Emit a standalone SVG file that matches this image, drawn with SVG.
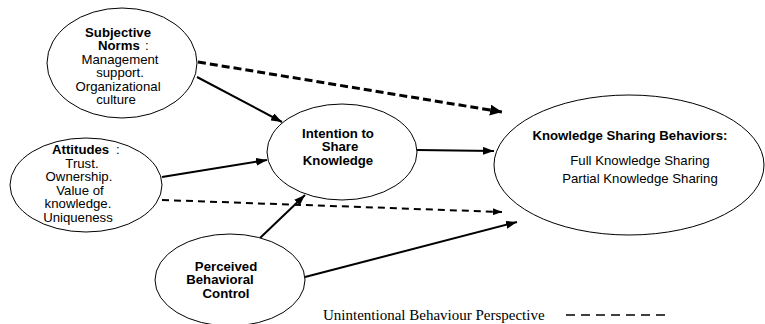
<svg xmlns="http://www.w3.org/2000/svg" width="765" height="324" viewBox="0 0 765 324">
<style>
.node{fill:#fff;stroke:#000;stroke-width:1}
.t{font-family:"Liberation Sans",Arial,sans-serif;font-size:12px;fill:#000;text-anchor:middle}
.s{text-anchor:start}
.b{font-weight:bold}
.solid{stroke:#000;stroke-width:2;fill:none}
.dash1{stroke:#000;stroke-width:3;stroke-dasharray:8 4;fill:none}
.dash2{stroke:#000;stroke-width:2;stroke-dasharray:7 5;fill:none}
.leg{font-family:"Liberation Serif","Times New Roman",serif;font-size:15px;fill:#000}
</style>
<defs>
<marker id="ah" markerUnits="userSpaceOnUse" markerWidth="11" markerHeight="8" refX="11" refY="4" orient="auto"><path d="M0,0 L11,4 L0,8 z" fill="#000"/></marker>
<marker id="ahb" markerUnits="userSpaceOnUse" markerWidth="12" markerHeight="11" refX="12" refY="5.5" orient="auto"><path d="M0,0 L12,5.5 L0,11 z" fill="#000"/></marker>
<marker id="ahs" markerUnits="userSpaceOnUse" markerWidth="9" markerHeight="7" refX="9" refY="3.5" orient="auto"><path d="M0,0 L9,3.5 L0,7 z" fill="#000"/></marker>
</defs>
<g id="connectors">
<line class="solid" x1="197" y1="77" x2="282" y2="122" marker-end="url(#ah)"/>
<line class="dash1" x1="198" y1="62" x2="502" y2="112" marker-end="url(#ahb)"/>
<line class="solid" x1="162" y1="177" x2="267" y2="160" marker-end="url(#ah)"/>
<line class="dash2" x1="162" y1="200" x2="502" y2="212" marker-end="url(#ahs)"/>
<line class="solid" x1="260" y1="238" x2="305" y2="195" marker-end="url(#ah)"/>
<line class="solid" x1="305" y1="277" x2="517" y2="222" marker-end="url(#ah)"/>
<line class="solid" x1="417" y1="150" x2="494" y2="151" marker-end="url(#ah)"/>
</g>
<g id="subjective-norms">
<ellipse class="node" cx="122" cy="63" rx="75" ry="55"/>
<g transform="scale(1.1 1)">
<text class="t b" x="107.3" y="37">Subjective</text>
<text class="t s" x="89.1" y="50.5"><tspan class="b">Norms</tspan><tspan x="131.8">:</tspan></text>
<text class="t" x="109.1" y="64">Management</text>
<text class="t" x="109.1" y="77.5">support.</text>
<text class="t" x="107.3" y="91">Organizational</text>
<text class="t" x="105.5" y="104.5">culture</text>
</g>
</g>
<g id="attitudes">
<ellipse class="node" cx="86" cy="185" rx="76" ry="47"/>
<g transform="scale(1.1 1)">
<text class="t s" x="47.3" y="154.5"><tspan class="b">Attitudes</tspan><tspan x="105.5">:</tspan></text>
<text class="t" x="74.5" y="168">Trust.</text>
<text class="t" x="71.8" y="181.5">Ownership.</text>
<text class="t" x="72.7" y="195">Value of</text>
<text class="t" x="70.9" y="208.5">knowledge.</text>
<text class="t" x="70.9" y="222">Uniqueness</text>
</g>
</g>
<g id="intention">
<ellipse class="node" cx="342" cy="152" rx="75" ry="48"/>
<g transform="scale(1.1 1)">
<text class="t b" x="307.3" y="138">Intention to</text>
<text class="t b" x="309.1" y="151.5">Share</text>
<text class="t b" x="307.3" y="165">Knowledge</text>
</g>
</g>
<g id="perceived-behavioral-control">
<ellipse class="node" cx="230" cy="280" rx="75" ry="46"/>
<g transform="scale(1.1 1)">
<text class="t b" x="205.5" y="271">Perceived</text>
<text class="t b" x="200" y="284.5">Behavioral</text>
<text class="t b" x="205.5" y="298">Control</text>
</g>
</g>
<g id="knowledge-sharing-behaviors">
<ellipse class="node" cx="629" cy="165" rx="135" ry="70"/>
<g transform="scale(1.1 1)">
<text class="t b" x="572.7" y="140">Knowledge Sharing Behaviors:</text>
<text class="t" x="581.8" y="165">Full Knowledge Sharing</text>
<text class="t" x="581.8" y="183">Partial Knowledge Sharing</text>
</g>
</g>
<g id="legend">
<text class="leg" x="323" y="320">Unintentional Behaviour Perspective</text>
<line x1="566" y1="315" x2="668" y2="315" stroke="#000" stroke-width="1.5" stroke-dasharray="9 6"/>
</g>
</svg>
